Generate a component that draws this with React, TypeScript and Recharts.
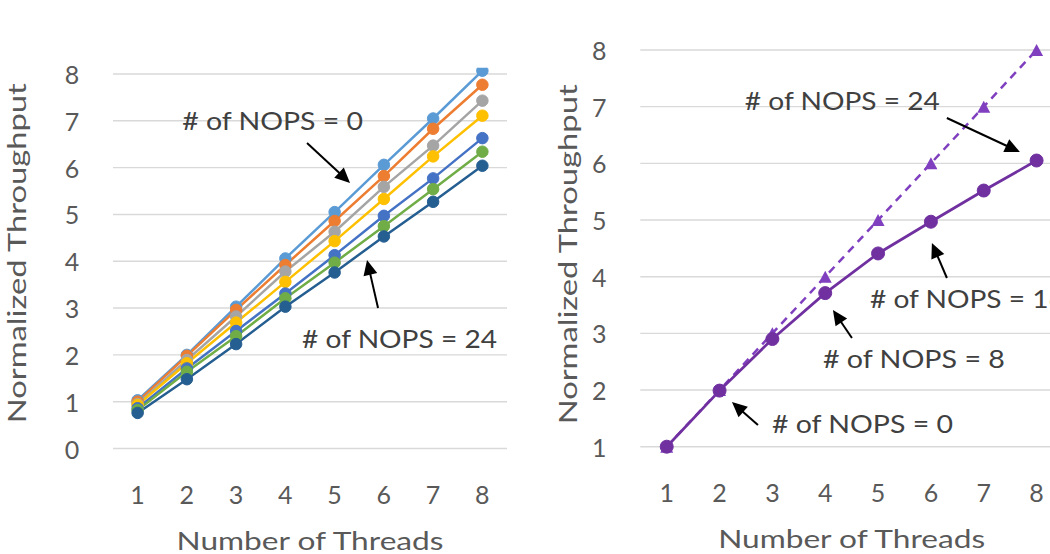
import React from 'react';
import { LineChart, Line, XAxis, YAxis, CartesianGrid, ReferenceDot } from 'recharts';

// ---- data ----
const threads = [1, 2, 3, 4, 5, 6, 7, 8];
const nops0 = [1.03, 2.0, 3.03, 4.06, 5.05, 6.06, 7.05, 8.07];
const nops1 = [1.0, 1.98, 2.96, 3.92, 4.86, 5.82, 6.83, 7.77];
const nops2 = [0.95, 1.89, 2.82, 3.78, 4.63, 5.59, 6.47, 7.43];
const nops4 = [0.93, 1.82, 2.69, 3.56, 4.43, 5.33, 6.24, 7.11];
const nops8 = [0.86, 1.71, 2.51, 3.31, 4.13, 4.97, 5.77, 6.63];
const nops16 = [0.82, 1.64, 2.4, 3.21, 3.97, 4.75, 5.54, 6.34];
const nops24 = [0.76, 1.48, 2.23, 3.03, 3.76, 4.53, 5.27, 6.04];

const idealScaling = [1, 2, 3, 4, 5, 6, 7, 8];
const measuredScaling = [1.0, 1.99, 2.9, 3.71, 4.41, 4.97, 5.52, 6.05];

const leftTicks = [0, 1, 2, 3, 4, 5, 6, 7, 8];
const rightTicks = [1, 2, 3, 4, 5, 6, 7, 8];

const seriesKeys = ['nops0', 'nops1', 'nops2', 'nops4', 'nops8', 'nops16', 'nops24'];
const seriesValues = [nops0, nops1, nops2, nops4, nops8, nops16, nops24];
const seriesColors = ['#5B9BD5', '#ED7D31', '#A5A5A5', '#FFC000', '#4472C4', '#70AD47', '#255E91'];

const leftData = threads.map((t, i) => {
  const row: any = { threads: t };
  seriesKeys.forEach((k, j) => (row[k] = seriesValues[j][i]));
  return row;
});
const rightData = threads.map((t, i) => ({ threads: t, ideal: idealScaling[i], measured: measuredScaling[i] }));

// ---- styles ----
const FONT = 'Lato, "Noto Sans", sans-serif';
const TEXT = '#595959';
const FS = 25;
const GRID = '#d9d9d9';
const PURPLE = '#7030A0';
const PURPLE_DASH = '#7F3FBF';

const YTick = (props: any) => {
  const { x, y, payload } = props;
  return (
    <text x={x - 41} y={y} textAnchor="middle" dominantBaseline="central" fill={TEXT} fontSize={FS} fontFamily={FONT}>
      {payload.value}
    </text>
  );
};

const XTick = (props: any) => {
  const { x, y, payload } = props;
  return (
    <text x={x} y={y + 45} textAnchor="middle" dominantBaseline="central" fill={TEXT} fontSize={FS} fontFamily={FONT}>
      {payload.value}
    </text>
  );
};

const xTitle = (dy: number) => (props: any) => {
  const vb = props.viewBox || {};
  const cx = vb.x + vb.width / 2;
  const cy = vb.y + dy;
  return (
    <text x={cx} y={cy} textAnchor="middle" dominantBaseline="central" fill={TEXT} fontSize={FS} fontFamily={FONT}
      textLength={267} lengthAdjust="spacingAndGlyphs">
      Number of Threads
    </text>
  );
};

const yTitle = (dx: number, dy: number) => (props: any) => {
  const vb = props.viewBox || {};
  const cx = vb.x + dx;
  const cy = vb.y + vb.height / 2 + dy;
  return (
    <text x={cx} y={cy} transform={`rotate(-90 ${cx} ${cy})`} textAnchor="middle" dominantBaseline="central"
      fill={TEXT} fontSize={FS} fontFamily={FONT} textLength={340} lengthAdjust="spacingAndGlyphs">
      Normalized Throughput
    </text>
  );
};

function arrowShape(x1: number, y1: number, x2: number, y2: number) {
  const dx = x2 - x1;
  const dy = y2 - y1;
  const len = Math.sqrt(dx * dx + dy * dy);
  const ux = dx / len;
  const uy = dy / len;
  const hl = 15;
  const hw = 7;
  const bx = x2 - ux * hl;
  const by = y2 - uy * hl;
  const px = -uy * hw;
  const py = ux * hw;
  return (
    <g>
      <line x1={x1} y1={y1} x2={bx + ux * 2} y2={by + uy * 2} stroke="#000" strokeWidth={2} />
      <polygon points={`${x2},${y2} ${bx + px},${by + py} ${bx - px},${by - py}`} fill="#000" />
    </g>
  );
}

const annotation = (
  label: string,
  textLen: number,
  tail: [number, number],
  tip: [number, number],
  textPos: [number, number]
) => (props: any) => {
  const { cx, cy } = props;
  return (
    <g>
      <text x={cx + textPos[0]} y={cy + textPos[1]} textAnchor="middle" dominantBaseline="central" fill="#404040"
        fontSize={FS} fontFamily={FONT} textLength={textLen} lengthAdjust="spacingAndGlyphs">
        {label}
      </text>
      {arrowShape(cx + tail[0], cy + tail[1], cx + tip[0], cy + tip[1])}
    </g>
  );
};

const Triangle = (props: any) => {
  const { cx, cy, index } = props;
  if (cx == null || cy == null) return <g key={`t-${index}`} />;
  const w = 13;
  const h = 12;
  return (
    <path key={`t-${index}`} d={`M${cx},${cy - h / 2} L${cx + w / 2},${cy + h / 2} L${cx - w / 2},${cy + h / 2} Z`} fill={PURPLE_DASH} />
  );
};

export default function App() {
  return (
    <div style={{ position: 'fixed', left: 0, top: 0, width: 1050, height: 554, overflow: 'hidden', background: '#fff' }}>
      <div style={{ position: 'absolute', left: 0, top: 0 }}>
        <LineChart width={520} height={554} data={leftData} margin={{ top: 74, right: 13, bottom: 0, left: 0 }}>
          <CartesianGrid vertical={false} stroke={GRID} strokeWidth={1.4} />
          <XAxis dataKey="threads" type="category" scale="band" height={105.5} axisLine={false} tickLine={false} tickSize={0}
            tickMargin={0} tick={<XTick />} interval={0} label={{ content: xTitle(91.5) }} />
          <YAxis type="number" domain={[0, 8]} ticks={leftTicks} allowDataOverflow width={113} axisLine={false}
            tickLine={false} tickSize={0} tickMargin={0} tick={<YTick />} interval={0} label={{ content: yTitle(16, -8) }} />
          {seriesKeys.map((k, j) => (
            <Line key={k} dataKey={k} type="linear" stroke={seriesColors[j]} strokeWidth={2.5}
              dot={{ r: 5.75, fill: seriesColors[j], stroke: seriesColors[j], strokeWidth: 1, clipDot: false }}
              activeDot={false} isAnimationActive={false} />
          ))}
          <ReferenceDot x={5} y={5} r={0} ifOverflow="visible"
            shape={annotation('# of NOPS = 0', 181, [-27.6, -71.5], [15.4, -31.5], [-62, -94.5])} />
          <ReferenceDot x={5} y={3} r={0} ifOverflow="visible"
            shape={annotation('# of NOPS = 24', 195, [43.4, -0.1], [32.4, -48.1], [64.9, 29.9])} />
        </LineChart>
      </div>
      <div style={{ position: 'absolute', left: 540, top: 0 }}>
        <LineChart width={540} height={554} data={rightData} margin={{ top: 50, right: 17, bottom: 0, left: 0 }}>
          <CartesianGrid vertical={false} stroke={GRID} strokeWidth={1.4} />
          <XAxis dataKey="threads" type="category" scale="band" height={107.3} axisLine={false} tickLine={false} tickSize={0}
            tickMargin={0} tick={<XTick />} interval={0} label={{ content: xTitle(91.5) }} />
          <YAxis type="number" domain={[1, 8]} ticks={rightTicks} width={100.3} axisLine={false}
            tickLine={false} tickSize={0} tickMargin={0} tick={<YTick />} interval={0} label={{ content: yTitle(27, 6) }} />
          <Line dataKey="ideal" type="linear" stroke={PURPLE_DASH} strokeWidth={2.5} strokeDasharray="8 6"
            dot={<Triangle />} activeDot={false} isAnimationActive={false} />
          <Line dataKey="measured" type="linear" stroke={PURPLE} strokeWidth={2.75}
            dot={{ r: 6.5, fill: PURPLE, stroke: PURPLE, strokeWidth: 1 }} activeDot={false} isAnimationActive={false} />
          <ReferenceDot x={8} y={6} r={0} ifOverflow="visible"
            shape={annotation('# of NOPS = 24', 195, [-89.7, -45.35], [-16.7, -11.35], [-194.2, -63.35])} />
          <ReferenceDot x={6} y={5} r={0} ifOverflow="visible"
            shape={annotation('# of NOPS = 16', 195, [16, 58], [1, 23], [36.5, 78])} />
          <ReferenceDot x={4} y={4} r={0} ifOverflow="visible"
            shape={annotation('# of NOPS = 8', 182, [26.7, 61.3], [7.7, 33.3], [88.7, 81.3])} />
          <ReferenceDot x={2} y={2} r={0} ifOverflow="visible"
            shape={annotation('# of NOPS = 0', 181, [38.4, 35], [12.4, 12], [142.9, 33])} />
        </LineChart>
      </div>
    </div>
  );
}
